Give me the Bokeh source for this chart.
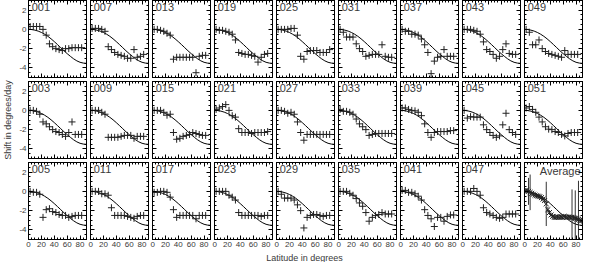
from bokeh.plotting import figure
from bokeh.models import LinearAxis, FixedTicker, Label
from bokeh.layouts import gridplot, column
from bokeh.embed import file_html
from bokeh.resources import INLINE

FONT = "Liberation Sans"
TXT = "#3a3a3a"

# ---------------- data ----------------
lat = [2.5, 7.5, 12.5, 17.5, 22.5, 27.5, 32.5, 37.5, 42.5, 47.5, 52.5, 57.5, 62.5, 67.5, 72.5, 77.5, 82.5]

model_lat = [0, 5, 10, 15, 20, 25, 30, 35, 40, 45, 50, 55, 60, 65, 70, 75, 80, 85, 90]
model_val = [0.0, -0.02, -0.08, -0.18, -0.32, -0.5, -0.72, -0.98, -1.27, -1.58, -1.9, -2.22, -2.52, -2.8, -3.06, -3.27, -3.42, -3.5, -3.53]

s001 = [0.3, 0.3, 0.3, 0.3, 0.0, -0.6, -1.5, -1.8, -2.0, -2.1, -2.2, -2.0, -2.0, -1.9, -1.9, -1.9, -1.9]
s007 = [0.1, 0.1, 0.1, 0.0, -0.2, -1.8, -2.1, -2.4, -2.6, -2.7, -2.8, -3.0, -3.0, -2.1, -2.9, -2.8, -2.6]
s013 = [0.0, 0.0, -0.1, -0.2, -0.4, -0.6, -3.1, -2.9, -2.9, -2.9, -2.9, -2.9, -2.9, -4.5, -2.8, -2.7, -2.7]
s019 = [0.0, -0.1, -0.1, -0.2, -0.3, -0.5, -1.1, -2.4, -2.5, -2.6, -2.6, -2.7, -2.8, -3.4, -2.9, -2.6, -2.5]
s025 = [0.0, 0.0, 0.0, 0.0, 0.1, 0.1, -0.6, -2.8, -3.1, -2.3, -2.2, -2.2, -2.2, -2.4, -2.4, -2.4, -2.1]
s031 = [0.0, -0.3, -0.8, -0.8, -0.8, -1.5, -2.0, -2.3, -2.8, -2.7, -2.6, -2.6, -2.6, -1.6, -2.8, -2.9, -2.9]
s037 = [0.0, -0.2, -0.2, -0.5, -0.5, -0.6, -1.0, -1.6, -2.4, -4.6, -3.3, -2.9, -2.8, -2.1, -2.8, -2.8, -2.8]
s043 = [0.0, 0.0, 0.0, -0.1, -0.2, -0.5, -1.3, -2.1, -2.3, -2.6, -3.0, -2.8, -2.1, -1.5, -2.5, -2.6, -2.6]
s049 = [0.0, -0.3, -1.6, -1.6, -1.1, -2.0, -2.3, -2.5, -2.6, -2.7, -2.8, -2.9, -2.2, -2.6, -2.6, -2.6, -2.6]

s003 = [0.0, 0.0, -0.1, -0.4, -1.2, -1.4, -1.7, -2.0, -2.2, -2.3, -2.5, -2.7, -2.3, -1.2, -2.5, -2.5, -2.5]
s009 = [0.0, 0.0, 0.0, -0.2, -0.4, -2.8, -2.8, -2.8, -2.8, -2.7, -2.6, -2.6, -2.6, -2.9, -2.7, -2.7, -2.7]
s015 = [0.0, 0.0, 0.0, -0.2, -0.5, -0.4, -2.3, -3.0, -2.9, -2.7, -2.6, -2.5, -2.3, -2.4, -2.5, -2.6, -2.6]
s021 = [0.1, 0.25, 0.4, 0.6, 0.0, -0.55, -0.7, -1.9, -2.3, -2.3, -2.3, -2.4, -2.3, -2.3, -2.3, -2.3, -2.2]
s027 = [0.0, 0.0, -0.1, -0.3, -0.2, -0.4, -1.2, -2.3, -3.1, -2.5, -2.5, -2.5, -2.5, -2.5, -2.5, -2.5, -2.5]
s033 = [0.1, -0.1, -0.1, -0.2, -0.4, -0.9, -1.4, -1.7, -2.0, -2.6, -2.5, -2.4, -2.4, -2.4, -2.4, -2.4, -2.4]
s039 = [0.25, 0.25, 0.1, 0.0, -0.05, -0.2, -0.55, -1.4, -2.3, -2.8, -2.3, -2.2, -2.2, -2.2, -2.2, -2.1, -2.1]
s045 = [0.0, -0.8, -0.65, -0.7, -0.7, -0.7, -1.5, -2.0, -2.3, -2.6, -2.8, -2.65, -1.5, -0.3, -2.0, -2.3, -2.5]
s051 = [0.25, 0.4, 0.1, -0.2, -0.7, -1.2, -1.7, -1.95, -2.0, -2.2, -2.3, -2.5, -2.65, -2.4, -2.3, -2.3, -2.3]

s005 = [0.0, -0.1, -0.1, -0.3, -2.7, -1.9, -1.8, -2.1, -2.2, -2.4, -2.5, -2.5, -2.7, -2.6, -2.5, -2.5, -2.5]
s011 = [0.0, 0.0, 0.0, -0.25, -0.25, -0.4, -1.7, -2.5, -2.5, -2.5, -2.5, -2.6, -2.7, -2.8, -2.6, -2.5, -2.5]
s017 = [-0.1, -0.1, 0.0, 0.0, -0.1, -0.6, -1.9, -2.7, -2.5, -2.5, -2.5, -2.5, -2.5, -2.85, -2.5, -2.5, -2.5]
s023 = [0.0, 0.0, 0.0, 0.0, -0.4, -0.6, -0.9, -2.2, -2.5, -2.5, -2.5, -2.5, -2.5, -2.5, -2.6, -2.5, -2.5]
s029 = [0.0, -0.3, -0.7, -0.7, -0.7, -0.9, -1.4, -2.0, -3.8, -2.7, -2.5, -2.4, -2.4, -2.5, -2.6, -2.5, -2.5]
s035 = [0.0, 0.0, 0.0, -0.2, -0.4, -0.75, -1.2, -1.55, -2.2, -3.1, -2.7, -2.5, -2.4, -2.2, -2.35, -2.35, -2.35]
s041 = [0.1, 0.1, -0.1, -0.1, -0.25, -0.5, -0.9, -1.9, -2.5, -2.85, -3.65, -2.7, -2.7, -3.1, -2.6, -2.45, -2.45]
s047 = [0.0, 0.0, 0.0, 0.3, 0.0, -0.4, -1.7, -2.2, -2.35, -2.5, -2.7, -2.8, -2.7, -2.35, -2.35, -2.35, -2.35]

avg_lat = [1.25, 3.75, 6.25, 8.75, 11.25, 13.75, 16.25, 18.75, 21.25, 23.75, 26.25, 28.75,
           31.25, 33.75, 36.25, 38.75, 41.25, 43.75, 46.25, 48.75, 51.25, 53.75, 56.25, 58.75,
           61.25, 63.75, 66.25, 68.75, 71.25, 73.75, 76.25, 78.75, 81.25, 83.75, 86.25, 88.75]
avg_val = [0.05, 0.1, 0.0, -0.1, -0.2, -0.3, -0.4, -0.45, -0.5, -0.55, -0.65, -0.8,
           -0.95, -1.3, -1.9, -2.2, -2.45, -2.6, -2.7, -2.7, -2.65, -2.7, -2.65, -2.7,
           -2.6, -2.65, -2.7, -2.65, -2.7, -2.7, -2.75, -2.8, -2.85, -2.9, -3.0, -3.05]
avg_err = [0.25, 0.25, 1.4, 1.85, 0.25, 0.25, 0.25, 0.25, 0.25, 0.25, 0.25, 0.25,
           0.3, 2.3, 0.3, 0.25, 0.25, 0.25, 0.25, 0.25, 0.25, 0.25, 0.25, 0.25,
           0.25, 0.25, 0.25, 0.25, 0.25, 2.9, 0.3, 2.9, 0.3, 4.0, 0.3, 0.3]

row_names = [["001", "007", "013", "019", "025", "031", "037", "043", "049"],
             ["003", "009", "015", "021", "027", "033", "039", "045", "051"],
             ["005", "011", "017", "023", "029", "035", "041", "047", "Average"]]
series = {"001": s001, "007": s007, "013": s013, "019": s019, "025": s025, "031": s031,
          "037": s037, "043": s043, "049": s049, "003": s003, "009": s009, "015": s015,
          "021": s021, "027": s027, "033": s033, "039": s039, "045": s045, "051": s051,
          "005": s005, "011": s011, "017": s017, "023": s023, "029": s029, "035": s035,
          "041": s041, "047": s047}

x_major = [0, 20, 40, 60, 80]
x_minor = [5, 10, 15, 25, 30, 35, 45, 50, 55, 65, 70, 75, 85, 90]
y_major = [-4, -2, 0, 2]
y_minor = [-5, -4.5, -3.5, -3, -2.5, -1.5, -1, -0.5, 0.5, 1, 1.5, 2.5, 3]
y_labels = {-4: "-4", -2: "-2", 0: "0", 2: "2"}

# ---------------- layout constants ----------------
FW, FH = 58, 77
LEFT0, GAP2 = 27, 2
BOT2 = 12
TOTAL_W = LEFT0 + FW + GAP2 + 8 * (GAP2 + FW + GAP2)
X_LO, X_HI, Y_LO, Y_HI = 0, 90, -5, 3


def base_style(ax):
    ax.axis_line_color = "black"
    ax.major_tick_line_color = "black"
    ax.minor_tick_line_color = "black"
    ax.major_tick_out = 0
    ax.minor_tick_out = 0
    ax.major_label_standoff = 0


def tick_axes(p, side, major, minor):
    # inner tick marks only (no labels): minor ticks short, major ticks long
    for ticks, length in ((minor, 2), (major, 4)):
        ax = LinearAxis(ticker=FixedTicker(ticks=[], minor_ticks=ticks))
        base_style(ax)
        ax.major_tick_in = 0
        ax.minor_tick_in = length
        p.add_layout(ax, side)


def label_axis(p, side, major, minor, overrides=None, title=None):
    ax = LinearAxis(ticker=FixedTicker(ticks=major, minor_ticks=minor))
    base_style(ax)
    ax.major_tick_in = 4
    ax.minor_tick_in = 2
    ax.major_label_text_font_size = "8px"
    ax.major_label_text_font = FONT
    ax.major_label_text_color = TXT
    ax.major_label_standoff = 2
    if overrides:
        ax.major_label_overrides = overrides
    if title:
        ax.axis_label = title
        ax.axis_label_text_font_size = "9px"
        ax.axis_label_text_font = FONT
        ax.axis_label_text_font_style = "normal"
        ax.axis_label_text_color = TXT
        ax.axis_label_standoff = 3
    p.add_layout(ax, side)


rows = []
for r, names in enumerate(row_names):
    row = []
    for c, name in enumerate(names):
        p = figure(frame_width=FW, frame_height=FH, x_range=(X_LO, X_HI), y_range=(Y_LO, Y_HI),
                   output_backend="svg", toolbar_location=None,
                   x_axis_location=None, y_axis_location=None,
                   min_border_left=LEFT0 if c == 0 else GAP2, min_border_right=GAP2,
                   min_border_top=0 if r == 0 else GAP2,
                   min_border_bottom=BOT2 if r == 2 else GAP2)
        p.grid.visible = False
        p.outline_line_color = "black"
        p.outline_line_alpha = 1
        p.background_fill_color = "white"
        p.border_fill_color = "white"

        if c == 0:
            label_axis(p, "left", y_major, y_minor, y_labels,
                       "Shift in degrees/day" if r == 1 else None)
        else:
            tick_axes(p, "left", y_major, y_minor)
        if r == 2:
            label_axis(p, "below", x_major, x_minor)
        else:
            tick_axes(p, "below", x_major, x_minor)
        tick_axes(p, "above", x_major, x_minor)
        tick_axes(p, "right", y_major, y_minor)

        p.line(model_lat, model_val, line_color="black", line_width=1)

        if name == "Average":
            lo = [v - e for v, e in zip(avg_val, avg_err)]
            hi = [v + e for v, e in zip(avg_val, avg_err)]
            p.segment(x0=avg_lat, y0=lo, x1=avg_lat, y1=hi, line_color="#333333", line_width=1)
            p.scatter(avg_lat, avg_val, marker="x", size=7, line_color="#222222", line_width=1)
            lbl = Label(x=X_HI - 3, y=Y_HI - 0.25, text=name, text_align="right",
                        text_baseline="top", text_font=FONT, text_font_size="11px", text_color=TXT)
        else:
            p.scatter(lat, series[name], marker="cross", size=7, line_color="#222222", line_width=1)
            lbl = Label(x=X_LO + 5, y=Y_HI - 0.25, text=name, text_align="left",
                        text_baseline="top", text_font=FONT, text_font_size="11px", text_color=TXT)
        p.add_layout(lbl)
        row.append(p)
    rows.append(row)

grid = gridplot(rows, toolbar_location=None)

# strip under the grid carrying the x-axis title, centred under the fifth column
lab = figure(width=TOTAL_W, height=11, x_range=(0, TOTAL_W), y_range=(0, 1),
             output_backend="svg", toolbar_location=None,
             x_axis_location=None, y_axis_location=None, min_border=0)
lab.grid.visible = False
lab.outline_line_color = None
xcenter = LEFT0 + FW + GAP2 + 3 * (GAP2 + FW + GAP2) + GAP2 + FW / 2
lab.add_layout(Label(x=xcenter, y=0.5, text="Latitude in degrees", text_align="center",
                     text_baseline="middle", text_font=FONT, text_font_size="9px", text_color=TXT))

page = column(grid, lab, spacing=0)
open("out.html", "w").write(file_html(page, INLINE))
